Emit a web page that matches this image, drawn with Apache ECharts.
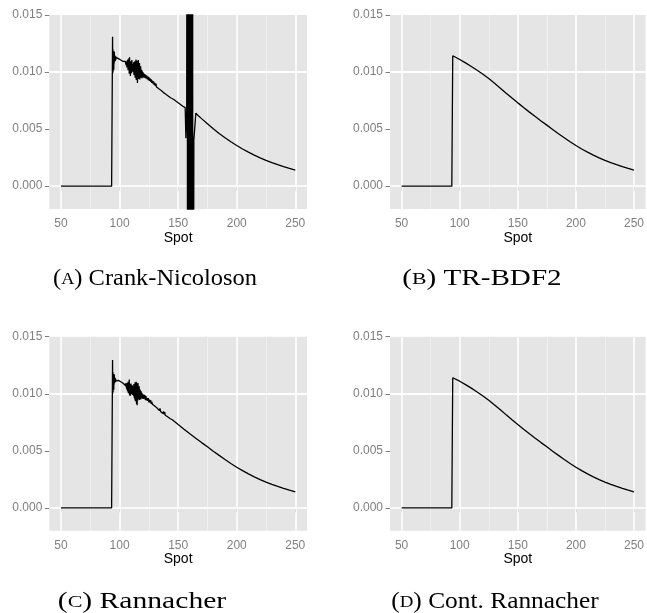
<!DOCTYPE html>
<html>
<head>
<meta charset="utf-8">
<script src="https://cdn.jsdelivr.net/npm/echarts@6/dist/echarts.min.js"></script>
<style>
  html, body { margin: 0; padding: 0; background: #ffffff; }
  #chart { width: 647px; height: 613px; }
</style>
</head>
<body>
<div id="chart"></div>
<script>
// Axis ticks and grid lines
const xTicks = [50, 100, 150, 200, 250];
const xMinor = [75, 125, 175, 225];
const yTicks = [0, 0.005, 0.010, 0.015];
const yMinor = [0.0025, 0.0075, 0.0125];

// Crank-Nicolson: oscillations after the jump and a blow-up near spot 160
const crankNicolson = [
  [50, 0], [93.2, 0],
  [94.00, 0.01310], [94.15, 0.00990], [94.30, 0.01200], [94.45, 0.01005], [94.60, 0.01185],
  [94.75, 0.01040], [94.90, 0.01170], [95.05, 0.01020], [95.20, 0.01160], [95.35, 0.01075],
  [95.50, 0.01180], [95.65, 0.01090], [95.80, 0.01150], [96.00, 0.01095], [96.20, 0.01140],
  [96.40, 0.01100], [96.60, 0.01135], [96.80, 0.01108], [97.00, 0.01128], [97.30, 0.01112],
  [97.60, 0.01122], [98.00, 0.01115], [99, 0.01118], [100, 0.01108], [101, 0.01106],
  [102, 0.01099], [103, 0.01093], [104, 0.01088], [104.5, 0.01080],
  [105.00, 0.01094], [105.25, 0.01066], [105.50, 0.01090], [105.75, 0.01058], [106.00, 0.01085],
  [106.25, 0.01040], [106.50, 0.01100], [106.75, 0.01050], [107.00, 0.01110], [107.25, 0.01015],
  [107.50, 0.01080], [107.75, 0.01045], [108.00, 0.01120], [108.25, 0.00985], [108.50, 0.01130],
  [108.75, 0.01010], [109.00, 0.01075], [109.25, 0.00965], [109.50, 0.01095], [109.75, 0.01000],
  [110.00, 0.01060], [110.25, 0.00990], [110.50, 0.01105], [110.75, 0.01005], [111.00, 0.01050],
  [111.25, 0.01015], [111.50, 0.01070], [111.75, 0.01000], [112.00, 0.01085], [112.25, 0.00975],
  [112.50, 0.01060], [112.75, 0.01010], [113.00, 0.01095], [113.25, 0.00950], [113.50, 0.01070],
  [113.75, 0.00985], [114.00, 0.01110], [114.25, 0.00930], [114.50, 0.01090], [114.75, 0.00960],
  [115.00, 0.01100], [115.25, 0.00905], [115.50, 0.01065], [115.75, 0.00975], [116.00, 0.01105],
  [116.25, 0.00940], [116.50, 0.01050], [116.75, 0.00965], [117.00, 0.01080], [117.25, 0.00935],
  [117.50, 0.01040], [117.75, 0.00960], [118.00, 0.01050], [118.25, 0.00950], [118.50, 0.01020],
  [118.75, 0.00970], [119.00, 0.01015], [119.25, 0.00945], [119.50, 0.01005], [119.75, 0.00960],
  [120.00, 0.00998], [120.25, 0.00955], [120.50, 0.00990], [120.75, 0.00950], [121.00, 0.00985],
  [121.5, 0.00950], [122.0, 0.00978], [122.5, 0.00945], [123.0, 0.00972], [123.5, 0.00938],
  [124.0, 0.00962], [124.5, 0.00930], [125.0, 0.00955], [125.5, 0.00922], [126.0, 0.00945],
  [126.5, 0.00915], [127.0, 0.00935], [127.5, 0.00905], [128.0, 0.00925], [128.5, 0.00898],
  [129.0, 0.00918], [129.5, 0.00888], [130.0, 0.00906], [130.5, 0.00878], [131.0, 0.00898],
  [131.5, 0.00870], [132.0, 0.00886], [132.5, 0.00864], [133.0, 0.00878], [133.5, 0.00853],
  [134.0, 0.00870], [134.5, 0.00846], [135.0, 0.00860], [135.5, 0.00838], [136.0, 0.00852],
  [136.5, 0.00830], [137.0, 0.00842], [137.5, 0.00820], [138.0, 0.00835], [138.5, 0.00813],
  [139.0, 0.00826], [139.5, 0.00806], [140.0, 0.00817], [140.5, 0.00799], [141.0, 0.00808],
  [141.5, 0.00791], [142.0, 0.00799], [142.5, 0.00783], [143.0, 0.00790], [143.5, 0.00775],
  [144.0, 0.00781], [144.5, 0.00768], [145, 0.00771], [146, 0.00762], [147, 0.00755],
  [148, 0.00746], [149, 0.00739], [150, 0.00731], [151, 0.00722], [152, 0.00716],
  [153, 0.00707], [154, 0.00701], [155, 0.00693], [156.0, 0.00688], [156.6, 0.00420],
  [157.3, 0.00660],
  [157.80, 0.06], [158.05, -0.06], [158.30, 0.06], [158.55, -0.06], [158.80, 0.06],
  [159.05, -0.06], [159.30, 0.06], [159.55, -0.06], [159.80, 0.06], [160.05, -0.06],
  [160.30, 0.06], [160.55, -0.06], [160.80, 0.06], [161.05, -0.06], [161.30, 0.06],
  [161.55, -0.06], [161.80, 0.06], [162.05, -0.06], [162.30, 0.06], [162.55, -0.06],
  [163.4, 0.00400], [165.1, 0.00640], [167, 0.00620], [170, 0.00592], [175, 0.00548],
  [180, 0.00503], [185, 0.00462], [190, 0.00424], [195, 0.00389], [200, 0.00356],
  [205, 0.00326], [210, 0.00298], [215, 0.00272], [220, 0.00248], [225, 0.00226],
  [230, 0.00206], [235, 0.00188], [240, 0.00171], [245, 0.00155], [250, 0.00140]
];

// TR-BDF2: smooth solution
const trBdf2 = [
  [50, 0], [93.2, 0], [94, 0.01143], [95, 0.01138], [100, 0.01110], [105, 0.01080],
  [110, 0.01049], [115, 0.01016], [120, 0.00981], [125, 0.00943], [130, 0.00902],
  [135, 0.00859], [140, 0.00815], [145, 0.00772], [150, 0.00730], [155, 0.00689],
  [160, 0.00649], [165, 0.00610], [170, 0.00572], [175, 0.00535], [180, 0.00497],
  [185, 0.00460], [190, 0.00424], [195, 0.00389], [200, 0.00356], [205, 0.00326],
  [210, 0.00298], [215, 0.00272], [220, 0.00248], [225, 0.00226], [230, 0.00206],
  [235, 0.00188], [240, 0.00171], [245, 0.00155], [250, 0.00140]
];

// Rannacher: damped oscillations just after the jump
const rannacher = [
  [50, 0], [93.2, 0],
  [94.00, 0.01296], [94.15, 0.01000], [94.30, 0.01190], [94.45, 0.01015], [94.60, 0.01175],
  [94.75, 0.01050], [94.90, 0.01165], [95.05, 0.01035], [95.20, 0.01150], [95.35, 0.01080],
  [95.50, 0.01170], [95.65, 0.01095], [95.80, 0.01145], [96.00, 0.01100], [96.20, 0.01138],
  [96.40, 0.01104], [96.60, 0.01130], [96.80, 0.01110], [97.00, 0.01125], [97.30, 0.01112],
  [97.60, 0.01120], [98.00, 0.01114], [99, 0.01117], [100, 0.01109], [101, 0.01105],
  [102, 0.01100], [103, 0.01092], [104, 0.01087], [104.5, 0.01095],
  [105.00, 0.01072], [105.25, 0.01092], [105.50, 0.01062], [105.75, 0.01088], [106.00, 0.01045],
  [106.25, 0.01095], [106.50, 0.01030], [106.75, 0.01080], [107.00, 0.01020], [107.25, 0.01105],
  [107.50, 0.01005], [107.75, 0.01090], [108.00, 0.01040], [108.25, 0.01125], [108.50, 0.00990],
  [108.75, 0.01085], [109.00, 0.00980], [109.25, 0.01070], [109.50, 0.01010], [109.75, 0.01090],
  [110.00, 0.00995], [110.25, 0.01060], [110.50, 0.01020], [110.75, 0.01075], [111.00, 0.00990],
  [111.25, 0.01050], [111.50, 0.01005], [111.75, 0.01070], [112.00, 0.00980], [112.25, 0.01085],
  [112.50, 0.00965], [112.75, 0.01060], [113.00, 0.00950], [113.25, 0.01100], [113.50, 0.00935],
  [113.75, 0.01075], [114.00, 0.00945], [114.25, 0.01105], [114.50, 0.00910], [114.75, 0.01090],
  [115.00, 0.00900], [115.25, 0.01070], [115.50, 0.00940], [115.75, 0.01095], [116.00, 0.00955],
  [116.25, 0.01050], [116.50, 0.00965], [116.75, 0.01065], [117.00, 0.00945], [117.25, 0.01040],
  [117.50, 0.00955], [117.75, 0.01030], [118.00, 0.00950], [118.25, 0.01025], [118.50, 0.00965],
  [118.75, 0.01010], [119.00, 0.00958], [119.25, 0.01005], [119.50, 0.00962], [119.75, 0.00995],
  [120.00, 0.00955], [120.25, 0.00992], [120.50, 0.00958], [120.75, 0.00988], [121.00, 0.00958],
  [121.5, 0.00990], [122.0, 0.00945], [122.5, 0.00980], [123.0, 0.00942], [123.5, 0.00962],
  [124.0, 0.00938], [124.5, 0.00962], [125.0, 0.00925], [125.5, 0.00948], [126.0, 0.00922],
  [126.5, 0.00945], [127.0, 0.00912], [127.5, 0.00930], [128.0, 0.00908], [128.5, 0.00925],
  [129.0, 0.00896], [129.5, 0.00912], [130.0, 0.00892], [130.5, 0.00908], [131.0, 0.00878],
  [131.5, 0.00895], [132.0, 0.00875], [132.5, 0.00888], [133.0, 0.00862], [133.5, 0.00880],
  [134.0, 0.00852], [134.5, 0.00872], [135.0, 0.00845], [135.5, 0.00862], [136.0, 0.00838],
  [136.5, 0.00855], [137.0, 0.00828], [137.5, 0.00846], [138.0, 0.00820], [138.5, 0.00838],
  [139.0, 0.00812], [139.5, 0.00828], [140.0, 0.00805], [140.5, 0.00820], [141.0, 0.00798],
  [141.5, 0.00810], [142.0, 0.00790], [142.5, 0.00802], [143.0, 0.00783], [143.5, 0.00792],
  [144.0, 0.00776], [144.5, 0.00782], [145, 0.00772], [150, 0.00730], [155, 0.00689],
  [160, 0.00649], [165, 0.00610], [170, 0.00572], [175, 0.00535], [180, 0.00497],
  [185, 0.00460], [190, 0.00424], [195, 0.00389], [200, 0.00356], [205, 0.00326],
  [210, 0.00298], [215, 0.00272], [220, 0.00248], [225, 0.00226], [230, 0.00206],
  [235, 0.00188], [240, 0.00171], [245, 0.00155], [250, 0.00140]
];

// Continuous Rannacher: smooth solution
const contRannacher = [
  [50, 0], [93.2, 0], [94, 0.01140], [95, 0.01136], [100, 0.01110], [105, 0.01080],
  [110, 0.01049], [115, 0.01016], [120, 0.00981], [125, 0.00943], [130, 0.00902],
  [135, 0.00859], [140, 0.00815], [145, 0.00772], [150, 0.00730], [155, 0.00689],
  [160, 0.00649], [165, 0.00610], [170, 0.00572], [175, 0.00535], [180, 0.00497],
  [185, 0.00460], [190, 0.00424], [195, 0.00389], [200, 0.00356], [205, 0.00326],
  [210, 0.00298], [215, 0.00272], [220, 0.00248], [225, 0.00226], [230, 0.00206],
  [235, 0.00188], [240, 0.00171], [245, 0.00155], [250, 0.00140]
];

const captionLetters = ['A', 'B', 'C', 'D'];
const captionTitles = ['Crank-Nicoloson', 'TR-BDF2', 'Rannacher', 'Cont. Rannacher'];

const panels = [
  { data: crankNicolson, left: 49.3, top: 15,    capX: 155, capY: 279, capStretch: 1.04 },
  { data: trBdf2,        left: 390,  top: 15,    capX: 482, capY: 279, capStretch: 1.24 },
  { data: rannacher,     left: 49.3, top: 336.7, capX: 142, capY: 602, capStretch: 1.26 },
  { data: contRannacher, left: 390,  top: 336.7, capX: 495, capY: 602, capStretch: 1.08 }
];

const sansFont = "'Liberation Sans', Arial, Helvetica, sans-serif";
const serifFont = "'Liberation Serif', 'Times New Roman', serif";
const tickGrey = '#7f7f7f';

const grids = [], xAxes = [], yAxes = [], series = [], graphics = [];

panels.forEach((p, i) => {
  grids.push({
    left: p.left, top: p.top, width: 257.7, height: 194,
    show: true, backgroundColor: '#e5e5e5', borderWidth: 0, containLabel: false
  });
  xAxes.push({
    type: 'value', gridIndex: i, min: 40, max: 260,
    axisLine: { show: false },
    axisTick: { show: true, customValues: xTicks, length: 4.5, lineStyle: { color: tickGrey, width: 1 } },
    axisLabel: { customValues: xTicks, color: tickGrey, fontSize: 12, fontFamily: sansFont, margin: 9 },
    splitLine: { show: false },
    name: 'Spot', nameLocation: 'middle', nameGap: 18,
    nameTextStyle: { color: '#000', fontSize: 14, fontFamily: sansFont }
  });
  yAxes.push({
    type: 'value', gridIndex: i, min: -0.002, max: 0.015,
    axisLine: { show: false },
    axisTick: { show: true, customValues: yTicks, length: 4.5, lineStyle: { color: tickGrey, width: 1 } },
    axisLabel: {
      customValues: yTicks, color: tickGrey, fontSize: 12, fontFamily: sansFont, margin: 7,
      formatter: v => v.toFixed(3)
    },
    splitLine: { show: false }
  });

  const minorStyle = { color: '#f0f0f0', width: 1, type: 'solid' };
  const majorStyle = { color: '#ffffff', width: 1.5, type: 'solid' };
  const gridLines = []
    .concat(xMinor.map(v => ({ xAxis: v, lineStyle: minorStyle })))
    .concat(yMinor.map(v => ({ yAxis: v, lineStyle: minorStyle })))
    .concat(xTicks.map(v => ({ xAxis: v, lineStyle: majorStyle })))
    .concat(yTicks.map(v => ({ yAxis: v, lineStyle: majorStyle })));

  // panel grid lines, drawn underneath the solution curve
  series.push({
    type: 'line', xAxisIndex: i, yAxisIndex: i, data: [], z: 1, silent: true,
    markLine: {
      silent: true, symbol: ['none', 'none'], animation: false, z: 1,
      label: { show: false }, emphasis: { disabled: true },
      data: gridLines
    }
  });
  series.push({
    type: 'line', xAxisIndex: i, yAxisIndex: i, data: p.data,
    showSymbol: false, symbol: 'none', z: 3, silent: true, clip: true,
    lineStyle: { color: '#000000', width: 1.3 }
  });

  graphics.push({
    type: 'text', x: p.capX, y: p.capY, scaleX: p.capStretch, silent: true,
    style: {
      text: '({sc|' + captionLetters[i] + '}) ' + captionTitles[i],
      fill: '#000', fontSize: 23.5, fontFamily: serifFont,
      align: 'center', verticalAlign: 'middle',
      rich: { sc: { fontSize: 17.5, fontFamily: serifFont, fill: '#000' } }
    }
  });
});

const chart = echarts.init(document.getElementById('chart'), null, { renderer: 'canvas' });
chart.setOption({
  animation: false,
  backgroundColor: '#ffffff',
  grid: grids,
  xAxis: xAxes,
  yAxis: yAxes,
  series: series,
  graphic: graphics
});
</script>
</body>
</html>
